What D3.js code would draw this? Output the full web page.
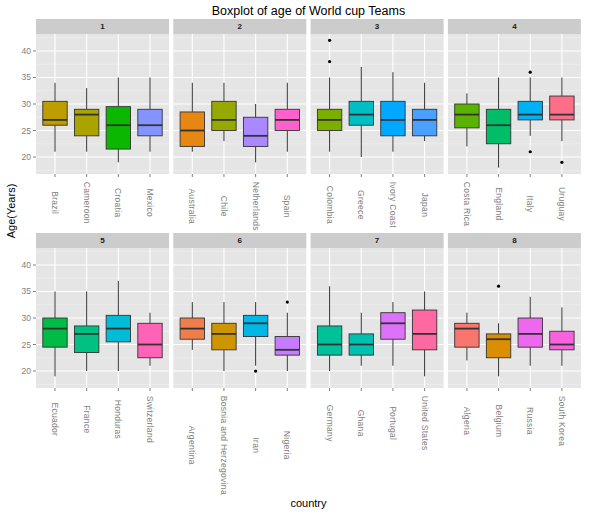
<!DOCTYPE html>
<html>
<head>
  <meta charset="utf-8">
  <title>Boxplot of age of World cup Teams</title>
  <script src="https://d3js.org/d3.v7.min.js"></script>
  <style>
    body { margin: 0; background: #fff; }
    text { font-family: "Liberation Sans", Arial, sans-serif; }
  </style>
</head>
<body>
  <div id="chart"></div>

  <script>
    // group labels (facets) and the four teams in each group
    var groups = ['1', '2', '3', '4', '5', '6', '7', '8'];
    var countries = [
      ['Brazil', 'Cameroon', 'Croatia', 'Mexico'],
      ['Australia', 'Chile', 'Netherlands', 'Spain'],
      ['Colombia', 'Greece', 'Ivory Coast', 'Japan'],
      ['Costa Rica', 'England', 'Italy', 'Uruguay'],
      ['Ecuador', 'France', 'Honduras', 'Switzerland'],
      ['Argentina', 'Bosnia and Herzegovina', 'Iran', 'Nigeria'],
      ['Germany', 'Ghana', 'Portugal', 'United States'],
      ['Algeria', 'Belgium', 'Russia', 'South Korea']
    ];

    // boxplot statistics (ages, years)
    var lowWhisker = [[21, 21, 19, 21], [21, 23, 19, 21], [21, 20, 21, 23], [22, 18, 24, 23],
                      [19, 20, 20, 21], [24, 20, 21, 20], [20, 21, 21, 19], [22, 19, 21, 21]];
    var lowerHinge = [[26, 24, 21.5, 24], [22, 25, 22, 25], [25, 26, 24, 24], [25.5, 22.5, 27, 27],
                      [24.5, 23.5, 25.5, 22.5], [26, 24, 26.5, 23], [23, 23, 26, 24], [24.5, 22.5, 24.5, 24]];
    var medians    = [[27, 28, 26, 26], [25, 27, 24, 27], [27, 28, 27, 27], [28, 26, 28, 28],
                      [28, 27, 28, 25], [28, 27, 29, 24], [25, 25, 29, 27], [28, 26, 27, 25]];
    var upperHinge = [[30.5, 29, 29.5, 29], [28.5, 30.5, 27.5, 29], [29, 30.5, 30.5, 29], [30, 29, 30.5, 31.5],
                      [30, 28.5, 30.5, 29], [30, 29, 30.5, 26.5], [28.5, 27, 31, 31.5], [29, 27, 30, 27.5]];
    var highWhisker = [[34, 33, 35, 35], [34, 34, 30, 34], [35, 37, 36, 34], [32, 35, 35, 35],
                       [35, 35, 37, 31], [33, 33, 33, 31], [36, 31, 33, 35], [31, 29, 34, 32]];
    var outliers = [
      [[], [], [], []], [[], [], [], []], [[38, 42], [], [], []], [[], [], [21, 36], [19]],
      [[], [], [], []], [[], [], [20], [33]], [[], [], [], []], [[], [36], [], []]
    ];
    var yTicks = [20, 25, 30, 35, 40];
    var yMinor = [17.5, 22.5, 27.5, 32.5, 37.5, 42.5];

    // ggplot style hue palette (polar LUV), teams in alphabetical order
    function hclLuv(h, c, l) {
      var xn = 95.047, yn = 100, zn = 108.883;
      var un = 4 * xn / (xn + 15 * yn + 3 * zn), vn = 9 * yn / (xn + 15 * yn + 3 * zn);
      var hr = h * Math.PI / 180, U = c * Math.cos(hr), V = c * Math.sin(hr);
      var Y = l > 8 ? yn * Math.pow((l + 16) / 116, 3) : yn * l / 903.3;
      var u = U / (13 * l) + un, v = V / (13 * l) + vn;
      var X = 9 * Y * u / (4 * v), Z = -X / 3 - 5 * Y + 3 * Y / v;
      X /= 100; Y /= 100; Z /= 100;
      var rgb = [
        3.240479 * X - 1.537150 * Y - 0.498535 * Z,
        -0.969256 * X + 1.875992 * Y + 0.041556 * Z,
        0.055648 * X - 0.204043 * Y + 1.057311 * Z
      ].map(function(t) {
        t = t <= 0.0031308 ? 12.92 * t : 1.055 * Math.pow(t, 1 / 2.4) - 0.055;
        return Math.round(Math.max(0, Math.min(1, t)) * 255);
      });
      return d3.rgb(rgb[0], rgb[1], rgb[2]).formatHex();
    }
    var allTeams = d3.merge(countries).slice().sort(d3.ascending);
    var colour = d3.scaleOrdinal()
      .domain(allTeams)
      .range(allTeams.map(function(d, i) { return hclLuv(15 + i * 360 / allTeams.length, 100, 65); }));

    var width = 599, height = 516;
    var panelLeft = 36, panelW = 133, gapX = 4.3;
    var rowTop = [19, 233], stripH = 15, panelH = 140;

    var svg = d3.select('#chart').append('svg')
      .attr('width', width)
      .attr('height', height);

    var y = d3.scaleLinear().domain([16.8, 43.2]).range([panelH, 0]);

    svg.append('text')
      .attr('x', panelLeft + (4 * panelW + 3 * gapX) / 2)
      .attr('y', 15)
      .attr('text-anchor', 'middle')
      .style('font-size', '12.5px')
      .text('Boxplot of age of World cup Teams');

    groups.forEach(function(g, gi) {
      var col = gi % 4, row = Math.floor(gi / 4);
      var px = panelLeft + col * (panelW + gapX);
      var py = rowTop[row];
      var names = countries[gi];

      var x = d3.scalePoint().domain(names).range([0, panelW]).padding(0.6);
      var boxW = x.step() * 0.77;

      var strip = svg.append('g').attr('transform', 'translate(' + px + ',' + py + ')');
      strip.append('rect')
        .attr('width', panelW).attr('height', stripH)
        .attr('fill', '#cccccc');
      strip.append('text')
        .attr('x', panelW / 2).attr('y', stripH / 2)
        .attr('text-anchor', 'middle')
        .attr('dominant-baseline', 'central')
        .style('font-size', '8px')
        .style('font-weight', 'bold')
        .attr('fill', '#1a1a1a')
        .text(g);

      var panel = svg.append('g').attr('transform', 'translate(' + px + ',' + (py + stripH) + ')');
      panel.append('rect')
        .attr('width', panelW).attr('height', panelH)
        .attr('fill', '#e5e5e5');

      panel.selectAll('.minor').data(yMinor).enter().append('line')
        .attr('x1', 0).attr('x2', panelW)
        .attr('y1', function(d) { return y(d); }).attr('y2', function(d) { return y(d); })
        .attr('stroke', '#f2f2f2').attr('stroke-width', 0.6);
      panel.selectAll('.major').data(yTicks).enter().append('line')
        .attr('x1', 0).attr('x2', panelW)
        .attr('y1', function(d) { return y(d); }).attr('y2', function(d) { return y(d); })
        .attr('stroke', '#ffffff').attr('stroke-width', 1.1);
      panel.selectAll('.vgrid').data(names).enter().append('line')
        .attr('x1', function(d) { return x(d); }).attr('x2', function(d) { return x(d); })
        .attr('y1', 0).attr('y2', panelH)
        .attr('stroke', '#ffffff').attr('stroke-width', 1.1);

      var boxes = panel.selectAll('.box')
        .data(names.map(function(n, i) {
          return { name: n, lo: lowWhisker[gi][i], q1: lowerHinge[gi][i], med: medians[gi][i],
                   q3: upperHinge[gi][i], hi: highWhisker[gi][i], out: outliers[gi][i] };
        }))
        .enter().append('g').attr('class', 'box');

      boxes.append('line')
        .attr('x1', function(d) { return x(d.name); }).attr('x2', function(d) { return x(d.name); })
        .attr('y1', function(d) { return y(d.hi); }).attr('y2', function(d) { return y(d.q3); })
        .attr('stroke', '#333333').attr('stroke-width', 1);
      boxes.append('line')
        .attr('x1', function(d) { return x(d.name); }).attr('x2', function(d) { return x(d.name); })
        .attr('y1', function(d) { return y(d.q1); }).attr('y2', function(d) { return y(d.lo); })
        .attr('stroke', '#333333').attr('stroke-width', 1);
      boxes.append('rect')
        .attr('x', function(d) { return x(d.name) - boxW / 2; })
        .attr('y', function(d) { return y(d.q3); })
        .attr('width', boxW)
        .attr('height', function(d) { return y(d.q1) - y(d.q3); })
        .attr('fill', function(d) { return colour(d.name); })
        .attr('stroke', '#333333').attr('stroke-width', 0.9);
      boxes.append('line')
        .attr('x1', function(d) { return x(d.name) - boxW / 2; })
        .attr('x2', function(d) { return x(d.name) + boxW / 2; })
        .attr('y1', function(d) { return y(d.med); }).attr('y2', function(d) { return y(d.med); })
        .attr('stroke', '#333333').attr('stroke-width', 1.8);
      boxes.each(function(d) {
        d3.select(this).selectAll('circle').data(d.out).enter().append('circle')
          .attr('cx', x(d.name))
          .attr('cy', function(v) { return y(v); })
          .attr('r', 1.6)
          .attr('fill', '#000000');
      });

      // x ticks and rotated team names
      var axis = panel.append('g').attr('transform', 'translate(0,' + panelH + ')');
      axis.selectAll('line').data(names).enter().append('line')
        .attr('x1', function(d) { return x(d); }).attr('x2', function(d) { return x(d); })
        .attr('y1', 0).attr('y2', 3)
        .attr('stroke', '#7f7f7f');
      var labels = axis.selectAll('text').data(names).enter().append('text')
        .attr('text-anchor', 'middle')
        .attr('dominant-baseline', 'central')
        .style('font-size', '8.5px')
        .style('letter-spacing', '0.3px')
        .attr('fill', '#7f7f7f')
        .text(function(d) { return d; });
      var maxLen = 0;
      labels.each(function() { maxLen = Math.max(maxLen, this.getComputedTextLength()); });
      labels.attr('transform', function(d) {
        return 'translate(' + x(d) + ',' + (7.7 + maxLen / 2) + ') rotate(90)';
      });

      // y axis only on the first column
      if (col === 0) {
        var yaxis = panel.append('g');
        yaxis.selectAll('line').data(yTicks).enter().append('line')
          .attr('x1', -3).attr('x2', 0)
          .attr('y1', function(d) { return y(d); }).attr('y2', function(d) { return y(d); })
          .attr('stroke', '#7f7f7f');
        yaxis.selectAll('text').data(yTicks).enter().append('text')
          .attr('x', -5)
          .attr('y', function(d) { return y(d); })
          .attr('text-anchor', 'end')
          .attr('dominant-baseline', 'central')
          .style('font-size', '8.5px')
          .attr('fill', '#7f7f7f')
          .text(function(d) { return d; });
      }
    });

    svg.append('text')
      .attr('transform', 'translate(11,211) rotate(-90)')
      .attr('text-anchor', 'middle')
      .attr('dominant-baseline', 'central')
      .style('font-size', '11px')
      .text('Age(Years)');

    svg.append('text')
      .attr('x', panelLeft + (4 * panelW + 3 * gapX) / 2)
      .attr('y', 507)
      .attr('text-anchor', 'middle')
      .style('font-size', '11px')
      .text('country');
  </script>
</body>
</html>
